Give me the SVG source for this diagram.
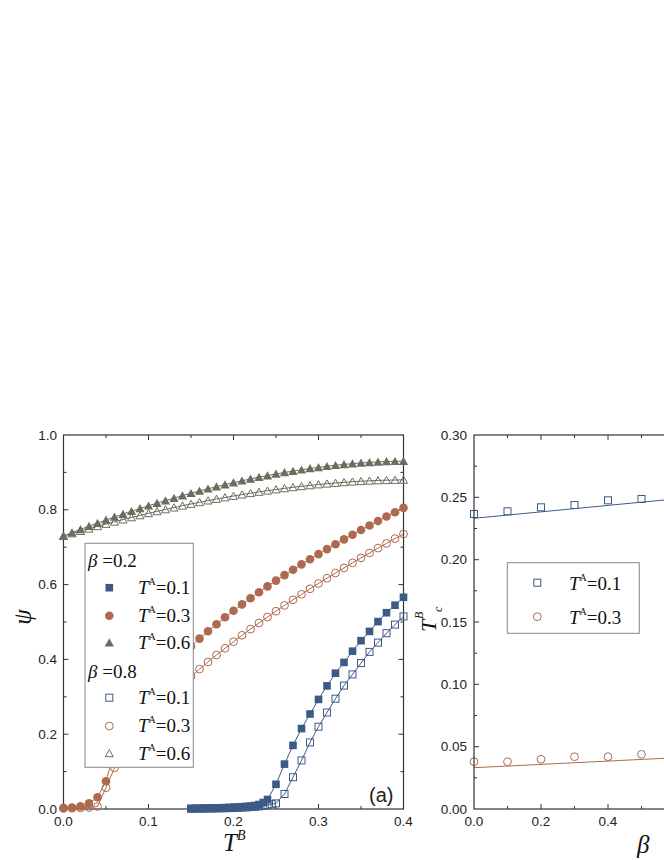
<svg xmlns="http://www.w3.org/2000/svg" width="664" height="860" viewBox="0 0 664 860">
<style>
.fr{fill:none;stroke:#333;stroke-width:1.2}
.tk{stroke:#333;stroke-width:1}
.tl{font-family:"Liberation Sans",Arial,sans-serif;font-size:13.5px;fill:#222}
.ser{font-family:"Liberation Serif","Times New Roman",serif;fill:#111}
.lg{font-size:19px}
.it{font-style:italic}
.bl{fill:none;stroke:#3b5a86;stroke-width:1}
.br{fill:none;stroke:#ad6a4e;stroke-width:1}
.gr{fill:none;stroke:#6a6e5e;stroke-width:1}
</style>
<defs>
<marker id="fs" markerUnits="userSpaceOnUse" viewBox="0 0 10 10" refX="5" refY="5" markerWidth="10" markerHeight="10"><rect x="1.2" y="1.2" width="7.6" height="7.6" fill="#3b5a86"/></marker>
<marker id="os" markerUnits="userSpaceOnUse" viewBox="0 0 10 10" refX="5" refY="5" markerWidth="10" markerHeight="10"><rect x="1.5" y="1.5" width="7" height="7" fill="none" stroke="#3b5a86" stroke-width="1"/></marker>
<marker id="fc" markerUnits="userSpaceOnUse" viewBox="0 0 10 10" refX="5" refY="5" markerWidth="10" markerHeight="10"><circle cx="5" cy="5" r="4.3" fill="#ad6a4e"/></marker>
<marker id="oc" markerUnits="userSpaceOnUse" viewBox="0 0 10 10" refX="5" refY="5" markerWidth="10" markerHeight="10"><circle cx="5" cy="5" r="3.9" fill="none" stroke="#ad6a4e" stroke-width="1"/></marker>
<marker id="ft" markerUnits="userSpaceOnUse" viewBox="0 0 10 10" refX="5" refY="5" markerWidth="10" markerHeight="10"><path d="M5 0.6 L9.6 8.8 L0.4 8.8 Z" fill="#6a6e5e"/></marker>
<marker id="ot" markerUnits="userSpaceOnUse" viewBox="0 0 10 10" refX="5" refY="5" markerWidth="10" markerHeight="10"><path d="M5 1.2 L9 8.4 L1 8.4 Z" fill="none" stroke="#6a6e5e" stroke-width="1"/></marker>
</defs>
<rect width="664" height="860" fill="#fff"/>

<g id="panel-a-axes">
<rect class="fr" x="63.5" y="435" width="340" height="374"/>
<path class="tk" d="M63.5 809v-5M148.5 809v-5M233.5 809v-5M318.5 809v-5M106 809v-3M191 809v-3M276 809v-3M361 809v-3M63.5 435v5M148.5 435v5M233.5 435v5M318.5 435v5M106 435v3M191 435v3M276 435v3M361 435v3M63.5 734.2h5M63.5 659.4h5M63.5 584.6h5M63.5 509.8h5M63.5 771.6h3M63.5 696.8h3M63.5 622h3M63.5 547.2h3M63.5 472.4h3M403.5 734.2h-5M403.5 659.4h-5M403.5 584.6h-5M403.5 509.8h-5M403.5 771.6h-3M403.5 696.8h-3M403.5 622h-3M403.5 547.2h-3M403.5 472.4h-3"/>
<g class="tl" text-anchor="end"><text x="57" y="813.5">0.0</text><text x="57" y="738.7">0.2</text><text x="57" y="663.9">0.4</text><text x="57" y="589.1">0.6</text><text x="57" y="514.3">0.8</text><text x="57" y="439.5">1.0</text></g>
<g class="tl" text-anchor="middle"><text x="63.5" y="826">0.0</text><text x="148.5" y="826">0.1</text><text x="233.5" y="826">0.2</text><text x="318.5" y="826">0.3</text><text x="403.5" y="826">0.4</text></g>
<text class="ser it" font-size="25" transform="translate(31,617) rotate(-90)" text-anchor="middle">ψ</text>
<text class="ser it" x="223" y="851" font-size="25">T<tspan font-size="14" dy="-11">B</tspan></text>
<text class="tl" x="369" y="802" style="font-size:20px">(a)</text>
</g>

<g id="connectors">
<polyline class="gr" marker-start="url(#ft)" marker-mid="url(#ft)" marker-end="url(#ft)" points="63.5,536 72,532.7 80.5,529.4 89,526.2 97.5,523.1 106,520 114.5,517 123,514.1 131.5,511.3 140,508.5 148.5,505.8 157,503.1 165.5,500.6 174,498.1 182.5,495.6 191,493.3 199.5,491 208,488.8 216.5,486.7 225,484.6 233.5,482.7 242,480.8 250.5,479 259,477.2 267.5,475.6 276,474 284.5,472.5 293,471.1 301.5,469.8 310,468.5 318.5,467.4 327,466.3 335.5,465.3 344,464.4 352.5,463.7 361,463 369.5,462.4 378,461.9 386.5,461.5 395,461.3 403.5,461.2"/>
<polyline class="gr" marker-start="url(#ot)" marker-mid="url(#ot)" marker-end="url(#ot)" points="63.5,536 72,533.5 80.5,531.1 89,528.7 97.5,526.3 106,524 114.5,521.8 123,519.6 131.5,517.4 140,515.4 148.5,513.3 157,511.3 165.5,509.4 174,507.6 182.5,505.7 191,504 199.5,502.3 208,500.6 216.5,499 225,497.5 233.5,496 242,494.6 250.5,493.2 259,491.9 267.5,490.7 276,489.5 284.5,488.4 293,487.3 301.5,486.3 310,485.4 318.5,484.5 327,483.7 335.5,483 344,482.3 352.5,481.7 361,481.2 369.5,480.8 378,480.4 386.5,480.2 395,480 403.5,479.9"/>
<polyline class="br" marker-start="url(#fc)" marker-mid="url(#fc)" marker-end="url(#fc)" points="63.5,807.9 72,807.5 80.5,806.4 89,803.4 97.5,797.3 106,781.2 114.5,751.2 123,732.1 131.5,716.9 140,703.9 148.5,692.3 157,681.8 165.5,672.1 174,663 182.5,654.4 191,646.4 199.5,638.6 208,631.3 216.5,624.2 225,617.3 233.5,610.8 242,604.4 250.5,598.2 259,592.2 267.5,586.4 276,580.6 284.5,575.1 293,569.7 301.5,564.4 310,559.2 318.5,554.1 327,549.1 335.5,544.2 344,539.4 352.5,534.7 361,530 369.5,525.5 378,521 386.5,516.5 395,512.2 403.5,507.9"/>
<polyline class="br" marker-start="url(#oc)" marker-mid="url(#oc)" marker-end="url(#oc)" points="63.5,808.5 72,808.3 80.5,808 89,807.5 97.5,806.5 106,787.7 114.5,767.8 123,753 131.5,740.5 140,729.3 148.5,719.1 157,709.7 165.5,700.8 174,692.4 182.5,684.3 191,676.5 199.5,669.1 208,662 216.5,655 225,648.3 233.5,641.7 242,635.3 250.5,629.1 259,623 267.5,617 276,611.2 284.5,605.4 293,599.8 301.5,594.3 310,588.8 318.5,583.5 327,578.2 335.5,573 344,567.9 352.5,562.9 361,557.9 369.5,553 378,548.1 386.5,543.4 395,538.6 403.5,534"/>
<polyline class="bl" marker-start="url(#os)" marker-mid="url(#os)" marker-end="url(#os)" points="191,808.7 195.25,808.7 199.5,808.6 203.75,808.6 208,808.5 212.25,808.5 216.5,808.4 220.75,808.3 225,808.2 229.25,808.1 233.5,808 237.75,807.8 242,807.6 246.25,807.4 250.5,807.1 254.75,806.8 259,806.4 263.25,805.8 267.5,805 271.75,804.2 276,803.4 284.5,794 293,777.2 301.5,760.4 310,742.4 318.5,726.7 327,712.5 335.5,698.7 344,685.6 352.5,674.4 361,663.1 369.5,651.9 378,642.6 386.5,633.2 395,624.6 403.5,616.4"/>
<polyline class="bl" marker-start="url(#fs)" marker-mid="url(#fs)" marker-end="url(#fs)" points="191,808.5 195.25,808.4 199.5,808.3 203.75,808.2 208,808.1 212.25,808 216.5,807.9 220.75,807.8 225,807.6 229.25,807.4 233.5,807.2 237.75,807 242,806.7 246.25,806.4 250.5,806 254.75,805.5 259,804.5 263.25,802.5 267.5,799.5 276,784.3 284.5,764.1 293,745.4 301.5,728.6 310,714 318.5,699.4 327,685.9 335.5,673.2 344,662.4 352.5,651.2 361,640.7 369.5,631.4 378,621.6 386.5,612.7 395,605.2 403.5,597.3"/>
<path class="bl" d="M474 518.3L664 500"/>
<path class="br" d="M474 767.7L664 758.3"/>
<polyline fill="none" stroke="none" marker-start="url(#os)" marker-mid="url(#os)" marker-end="url(#os)" points="474,514 507.5,511.3 541,507.3 574.5,505 608,500.3 641.5,499"/>
<polyline fill="none" stroke="none" marker-start="url(#oc)" marker-mid="url(#oc)" marker-end="url(#oc)" points="474,761.7 507.5,761.7 541,759.3 574.5,756.7 608,756.7 641.5,754.3"/>
</g>

<g id="legend-a">
<rect x="85" y="543.3" width="108.3" height="224" fill="#fff" stroke="#888" stroke-width="1"/>
<text class="ser lg" x="88" y="567"><tspan class="it">β</tspan> =0.2</text>
<rect x="105.5" y="583.9" width="7.6" height="7.6" fill="#3b5a86"/>
<circle cx="109.3" cy="615.7" r="4.3" fill="#ad6a4e"/>
<path d="M109.3 638.2 L113.9 646.4 L104.7 646.4 Z" fill="#6a6e5e"/>
<text class="ser lg" x="138" y="594"><tspan class="it">T</tspan><tspan font-size="10" dy="-9">A</tspan><tspan dy="9">=0.1</tspan></text>
<text class="ser lg" x="138" y="622"><tspan class="it">T</tspan><tspan font-size="10" dy="-9">A</tspan><tspan dy="9">=0.3</tspan></text>
<text class="ser lg" x="138" y="649"><tspan class="it">T</tspan><tspan font-size="10" dy="-9">A</tspan><tspan dy="9">=0.6</tspan></text>
<text class="ser lg" x="88" y="678"><tspan class="it">β</tspan> =0.8</text>
<rect x="105.8" y="694.2" width="7" height="7" fill="none" stroke="#3b5a86"/>
<circle cx="109.3" cy="726" r="3.9" fill="none" stroke="#ad6a4e"/>
<path d="M109.3 749.5 L113.3 756.7 L105.3 756.7 Z" fill="none" stroke="#6a6e5e"/>
<text class="ser lg" x="138" y="704"><tspan class="it">T</tspan><tspan font-size="10" dy="-9">A</tspan><tspan dy="9">=0.1</tspan></text>
<text class="ser lg" x="138" y="732"><tspan class="it">T</tspan><tspan font-size="10" dy="-9">A</tspan><tspan dy="9">=0.3</tspan></text>
<text class="ser lg" x="138" y="760"><tspan class="it">T</tspan><tspan font-size="10" dy="-9">A</tspan><tspan dy="9">=0.6</tspan></text>
</g>

<g id="panel-b-axes">
<rect class="fr" x="474" y="435" width="300" height="374"/>
<path class="tk" d="M474 746.7h5M474 684.3h5M474 622h5M474 559.7h5M474 497.3h5M474 777.8h3M474 715.5h3M474 653.2h3M474 590.8h3M474 528.5h3M474 466.2h3M541 809v-5M608 809v-5M507.5 809v-3M574.5 809v-3M641.5 809v-3M541 435v5M608 435v5M507.5 435v3M574.5 435v3M641.5 435v3"/>
<g class="tl" text-anchor="end"><text x="467" y="813.5">0.00</text><text x="467" y="751.2">0.05</text><text x="467" y="688.8">0.10</text><text x="467" y="626.5">0.15</text><text x="467" y="564.2">0.20</text><text x="467" y="501.8">0.25</text><text x="467" y="439.5">0.30</text></g>
<g class="tl" text-anchor="middle"><text x="474" y="826">0.0</text><text x="541" y="826">0.2</text><text x="608" y="826">0.4</text></g>
<text class="ser it" x="637" y="853" font-size="25">β</text>
<g transform="translate(436,632) rotate(-90)" class="ser"><text class="it" x="0" y="0" font-size="22">T</text><text x="13" y="-13" font-size="12" class="it">B</text><text x="20" y="6" font-size="12" class="it">c</text></g>
</g>

<g id="legend-b">
<rect x="507.3" y="562.7" width="132" height="70.6" fill="#fff" stroke="#888" stroke-width="1"/>
<rect x="533.8" y="579.2" width="7" height="7" fill="none" stroke="#3b5a86"/>
<circle cx="537.3" cy="616.7" r="3.9" fill="none" stroke="#ad6a4e"/>
<text class="ser lg" x="569" y="590"><tspan class="it">T</tspan><tspan font-size="10" dy="-9">A</tspan><tspan dy="9">=0.1</tspan></text>
<text class="ser lg" x="569" y="624"><tspan class="it">T</tspan><tspan font-size="10" dy="-9">A</tspan><tspan dy="9">=0.3</tspan></text>
</g>
</svg>
